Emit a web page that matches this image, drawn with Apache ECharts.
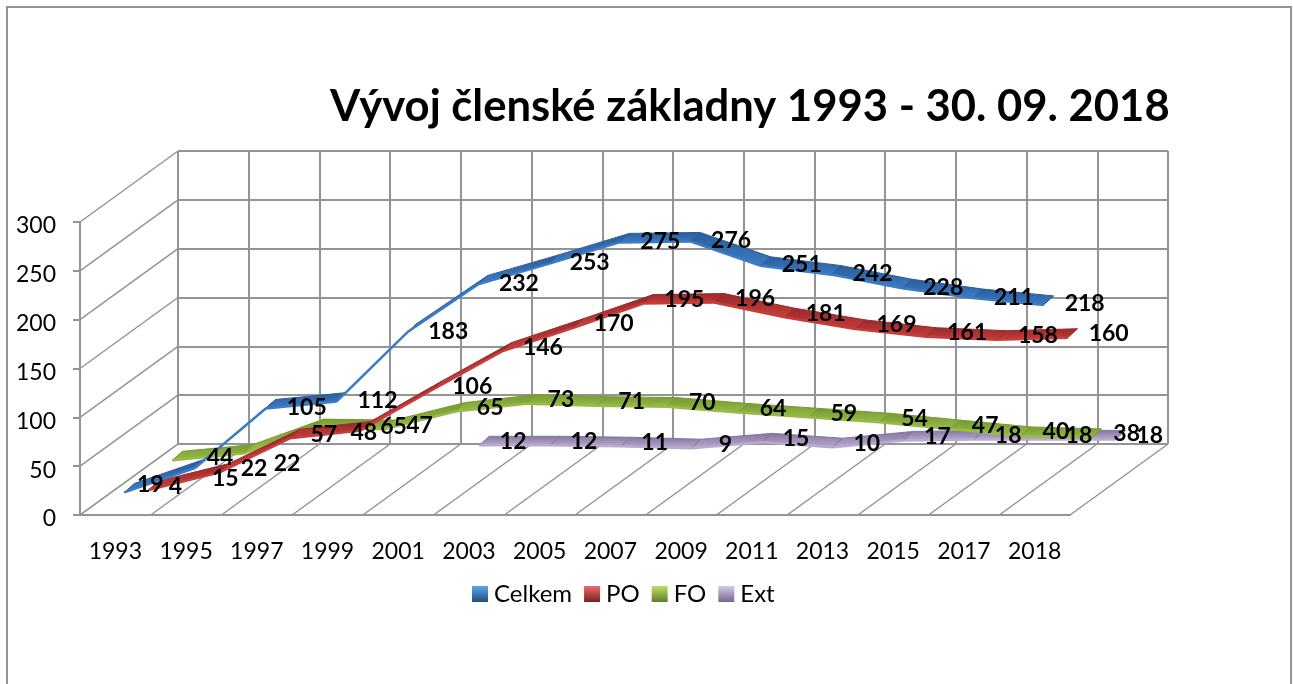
<!DOCTYPE html>
<html>
<head>
<meta charset="utf-8">
<script src="https://cdn.jsdelivr.net/npm/echarts@6/dist/echarts.min.js"></script>
<style>html,body{margin:0;padding:0;background:#fff}#c{width:1293px;height:684px}</style>
</head>
<body>
<div id="c"></div>
<script>
var titleText = 'Vývoj členské základny 1993 - 30. 09. 2018';
var years = ['1993','1995','1997','1999','2001','2003','2005','2007','2009','2011','2013','2015','2017','2018'];
var yTicks = [0,50,100,150,200,250,300];

var celkem = [19,44,105,112,183,232,253,275,276,251,242,228,218,211];
var po     = [4,22,57,65,106,146,170,195,196,181,169,161,158,160];
var fo     = [15,22,48,47,65,73,71,70,64,59,54,47,40,38];
var ext    = [null,null,null,null,12,12,11,9,15,10,17,18,18,18];

// the picture prints these two labels in the opposite order from the drawn line
var celkemLabels = [19,44,105,112,183,232,253,275,276,251,242,228,211,218];

var FONT = 'Lato, Carlito, sans-serif';
var GRID = '#949494';
var FRONT = {left:80, top:222, width:990, height:293};
var DEPTH = [98,-71];
var RIBBON = [10,-9];

var styles = {
  Celkem:{offset:[9,-4],   dark:'#2b5c9a', light:'#3c7cc4', swatch:['#5aa5e6','#24507f'], label:[50,-5]},
  PO:    {offset:[33,-21], dark:'#97292a', light:'#c63e3c', swatch:['#ee6a66','#7d2020'], label:[74,-25]},
  FO:    {offset:[57,-40], dark:'#779a33', light:'#98bb48', swatch:['#bde35f','#5f7d28'], label:[92,-44]},
  Ext:   {offset:[81,-58], dark:'#8475a0', light:'#b9abd0', swatch:['#d4c9e6','#75688f'], label:[115,-62]}
};
var labelNudges = {
  Celkem:{0:[-15,-7],1:[-16,-9]},
  PO:{0:[-14,0],1:[-6,0],2:[-7,0],3:[-8,0]},
  FO:{0:[18,22],1:[9,14],2:[15,8]},
  Ext:{}
};

function segments(vals){
  var out=[];
  for(var i=0;i<vals.length-1;i++){
    if(vals[i]!=null && vals[i+1]!=null) out.push([i,vals[i],vals[i+1]]);
  }
  return out;
}

function ribbonSeries(name, vals, z){
  var s=styles[name];
  return {
    type:'custom', name:name, xAxisIndex:0, yAxisIndex:0, clip:false, z:z, silent:true,
    itemStyle:{color:s.light},
    encode:{x:0,y:1},
    data:segments(vals),
    renderItem:function(params,api){
      var i=api.value(0);
      var a=api.coord([i,api.value(1)]), b=api.coord([i+1,api.value(2)]);
      var o=s.offset, d=RIBBON;
      var p0=[a[0]+o[0],a[1]+o[1]], p1=[b[0]+o[0],b[1]+o[1]];
      var q0=[p0[0]+d[0],p0[1]+d[1]], q1=[p1[0]+d[0],p1[1]+d[1]];
      return {type:'group',children:[
        {type:'polygon',shape:{points:[p0,p1,q1,q0]},
         style:{fill:new echarts.graphic.LinearGradient(0,0,0,1,[{offset:0,color:s.dark},{offset:1,color:s.light}]),stroke:s.dark,lineWidth:1}},
        {type:'polyline',shape:{points:[p0,p1]},style:{fill:null,stroke:s.light,lineWidth:2.5}}
      ]};
    }
  };
}

function labelSeries(name, vals, texts){
  var s=styles[name], nudges=labelNudges[name], data=[];
  vals.forEach(function(v,i){
    if(v==null) return;
    data.push([i,v,texts[i]]);
  });
  return {
    type:'custom', name:name+' labels', xAxisIndex:0, yAxisIndex:0, z:30, silent:true, clip:false,
    encode:{x:0,y:1},
    data:data,
    renderItem:function(p,api){
      var i=api.value(0), c=api.coord([i,api.value(1)]), n=nudges[i]||[0,0];
      return {type:'text',x:c[0]+s.label[0]+n[0],y:c[1]+s.label[1]+n[1],
        style:{text:String(api.value(2)),fill:'#000',font:'bold 23px '+FONT,textAlign:'center',textVerticalAlign:'middle'}};
    }
  };
}

var sideWall = {
  type:'custom', xAxisIndex:0, yAxisIndex:0, clip:false, z:1, silent:true, name:'side',
  data:yTicks.map(function(v){return [0,v];}),
  renderItem:function(p,api){
    var c=api.coord([0,api.value(1)]), band=api.size([1,0])[0];
    var x=c[0]-band/2;
    return {type:'line',shape:{x1:x,y1:c[1],x2:x+DEPTH[0],y2:c[1]+DEPTH[1]},style:{stroke:GRID,lineWidth:1.5}};
  }
};
var floor = {
  type:'custom', xAxisIndex:0, yAxisIndex:0, clip:false, z:1, silent:true, name:'floor',
  data:years.map(function(y,i){return [i,0];}).concat([[years.length-1,1]]),
  renderItem:function(p,api){
    var c=api.coord([api.value(0),0]), band=api.size([1,0])[0];
    var x=c[0]+(api.value(1)?band/2:-band/2);
    return {type:'line',shape:{x1:x,y1:c[1],x2:x+DEPTH[0],y2:c[1]+DEPTH[1]},style:{stroke:GRID,lineWidth:1.5}};
  }
};

var names=['Celkem','PO','FO','Ext'];
var option = {
  animation:false,
  backgroundColor:'#fff',
  tooltip:{show:false},
  title:{text:titleText,left:325,top:80,textStyle:{fontFamily:FONT,fontWeight:'bold',fontSize:43.6,color:'#000'}},
  legend:{
    data:names.map(function(n){return {name:n,itemStyle:{color:new echarts.graphic.LinearGradient(0,0,0,1,[{offset:0,color:styles[n].swatch[0]},{offset:1,color:styles[n].swatch[1]}])}};}),
    left:467, top:577, icon:'rect', itemWidth:16, itemHeight:16, itemGap:12, selectedMode:false,
    textStyle:{fontFamily:FONT,fontSize:24,color:'#000',padding:[0,0,0,1]}
  },
  grid:[
    {left:FRONT.left,top:FRONT.top,width:FRONT.width,height:FRONT.height,containLabel:false},
    {left:FRONT.left+DEPTH[0],top:FRONT.top+DEPTH[1],width:FRONT.width,height:FRONT.height}
  ],
  xAxis:[
    {type:'category',data:years,gridIndex:0,boundaryGap:true,
     axisLine:{show:true,onZero:false,lineStyle:{color:GRID,width:2}},axisTick:{show:false},
     axisLabel:{interval:0,margin:25,fontFamily:FONT,fontSize:23,color:'#000'},splitLine:{show:false}},
    {type:'category',data:years,gridIndex:1,boundaryGap:true,
     axisLine:{show:false},axisTick:{show:false},axisLabel:{show:false},
     splitLine:{show:true,interval:0,lineStyle:{color:GRID,width:2}}}
  ],
  yAxis:[
    {type:'value',min:0,max:300,interval:50,gridIndex:0,
     axisLine:{show:true,lineStyle:{color:GRID,width:2}},axisTick:{show:true,length:7,lineStyle:{color:GRID,width:2}},
     axisLabel:{margin:24,verticalAlign:'top',lineHeight:8,fontFamily:FONT,fontSize:23,color:'#000'},splitLine:{show:false}},
    {type:'value',min:0,max:300,interval:50,gridIndex:1,
     axisLine:{show:false},axisTick:{show:false},axisLabel:{show:false},
     splitLine:{show:true,lineStyle:{color:GRID,width:2}}}
  ],
  graphic:[{type:'rect',silent:true,z:-1,shape:{x:7,y:7,width:1284,height:700},style:{fill:null,stroke:'#949494',lineWidth:2}}],
  series:[
    sideWall, floor,
    ribbonSeries('Ext',ext,5),
    ribbonSeries('FO',fo,6),
    ribbonSeries('PO',po,7),
    ribbonSeries('Celkem',celkem,8),
    labelSeries('Celkem',celkem,celkemLabels),
    labelSeries('PO',po,po),
    labelSeries('FO',fo,fo),
    labelSeries('Ext',ext,ext)
  ]
};
echarts.init(document.getElementById('c')).setOption(option);
</script>
</body>
</html>
